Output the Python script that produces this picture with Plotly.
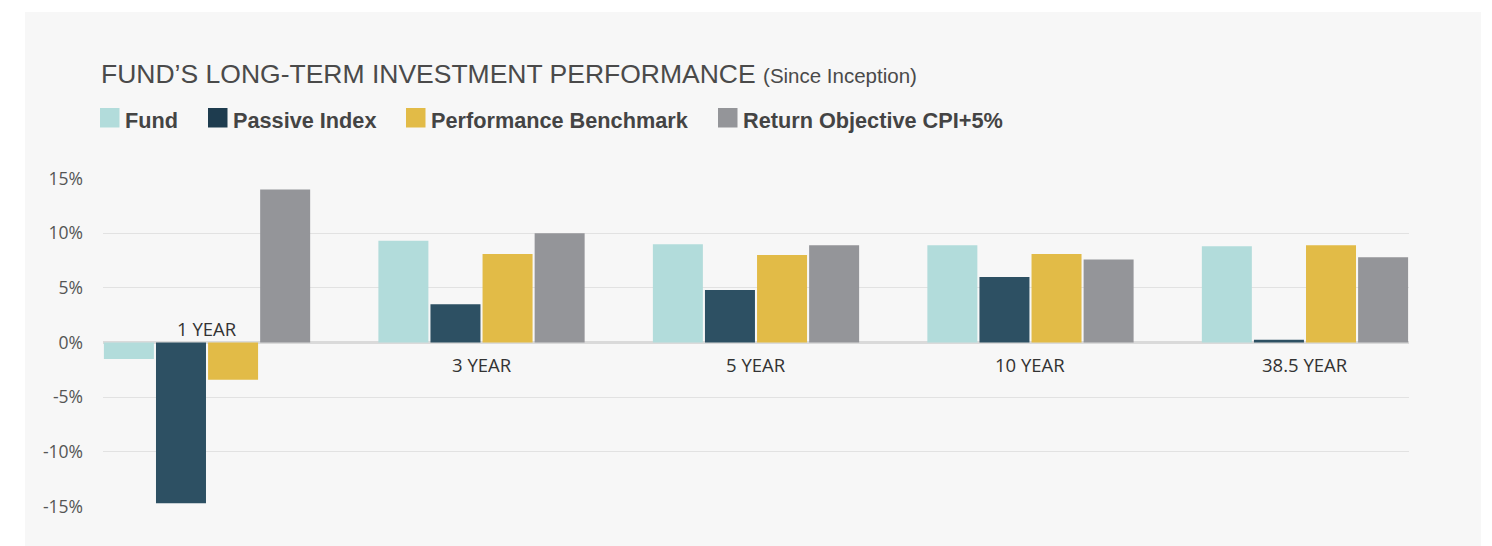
import plotly.graph_objects as go

# ---- data ----
categories = ["1 YEAR", "3 YEAR", "5 YEAR", "10 YEAR", "38.5 YEAR"]
series_names = ["Fund", "Passive Index", "Performance Benchmark", "Return Objective CPI+5%"]
fund = [-1.5, 9.3, 9.0, 8.9, 8.8]
passive_index = [-14.7, 3.5, 4.8, 6.0, 0.25]
performance_benchmark = [-3.4, 8.1, 8.0, 8.1, 8.9]
return_objective = [14.0, 10.0, 8.9, 7.6, 7.8]
series_values = [fund, passive_index, performance_benchmark, return_objective]
colors = ["#b2dcdb", "#2d5063", "#e2bb47", "#949599"]
legend_colors = ["#b2dcdb", "#1e3c4f", "#e2bb47", "#949599"]
tick_vals = [-15, -10, -5, 0, 5, 10, 15]
tick_text = ["-15%", "-10%", "-5%", "0%", "5%", "10%", "15%"]
title_text = "FUND\u2019S LONG-TERM INVESTMENT PERFORMANCE"
subtitle_text = "(Since Inception)"

# page places the figure 8px in from the top-left corner
OFF = 8
W, H = 1492 - OFF, 546 - OFF
L, R, T, B = 103 - OFF, 1409 - OFF, 178 - OFF, 507 - OFF  # plot area in figure px
pw, ph = R - L, B - T


def px_x(x):  # x in page px
    return (x - OFF - L) / pw


def px_y(y):  # y in page px
    return (B - (y - OFF)) / ph


fig = go.Figure()
for name, vals, col in zip(series_names, series_values, colors):
    fig.add_trace(go.Bar(x=categories, y=vals, name=name, marker_color=col,
                         marker_line_width=0, showlegend=False,
                         hovertemplate="%{x}<br>" + name + ": %{y}%<extra></extra>"))

shapes = [dict(type="rect", xref="paper", yref="paper", layer="below",
               x0=px_x(25), x1=px_x(1481), y0=px_y(570), y1=px_y(12),
               fillcolor="#f7f7f7", line_width=0)]
annotations = []

# title
annotations.append(dict(xref="paper", yref="paper", x=px_x(99), y=px_y(74),
                        xanchor="left", yanchor="middle", showarrow=False,
                        text=title_text + " <span style='font-size:20.5px'>" + subtitle_text + "</span>",
                        font=dict(family="Liberation Sans", size=26.5, color="#4a4a4a")))

# legend
legend_left = [100, 208, 406, 718]
for name, col, x0 in zip(series_names, legend_colors, legend_left):
    shapes.append(dict(type="rect", xref="paper", yref="paper",
                       x0=px_x(x0), x1=px_x(x0 + 19.5), y0=px_y(127.5), y1=px_y(108),
                       fillcolor=col, line_width=0))
    annotations.append(dict(xref="paper", yref="paper", x=px_x(x0 + 23), y=px_y(120),
                            xanchor="left", yanchor="middle", showarrow=False,
                            text="<b>" + name + "</b>",
                            font=dict(family="Liberation Sans", size=21.7, color="#444444")))

# category labels
for i, cat in enumerate(categories):
    neg = min(v[i] for v in series_values) < 0
    annotations.append(dict(xref="x", yref="y", x=cat, y=0, showarrow=False,
                            yanchor="middle",
                            yshift=14 if neg else -22,
                            text=cat, font=dict(family="Open Sans", size=18.5, color="#333333")))

fig.update_layout(
    width=W, height=H,
    margin=dict(l=L, r=W - R, t=T, b=H - B, pad=0),
    paper_bgcolor="#ffffff", plot_bgcolor="rgba(0,0,0,0)",
    barmode="group", bargap=0.241, bargroupgap=0.04,
    shapes=shapes, annotations=annotations,
    xaxis=dict(type="category", range=[-0.379, 4.379], showticklabels=False,
               showgrid=False, zeroline=False, showline=False, fixedrange=True),
    yaxis=dict(range=[-15.05, 15.05], tickvals=tick_vals, ticktext=tick_text,
               showgrid=True, gridcolor="#e2e2e2", gridwidth=1,
               zeroline=True, zerolinecolor="#dadada", zerolinewidth=3,
               showline=False, ticks="", ticklabelstandoff=19,
               tickfont=dict(family="Open Sans", size=17.5, color="#555555"),
               fixedrange=True),
)

fig.write_html("out.html")
